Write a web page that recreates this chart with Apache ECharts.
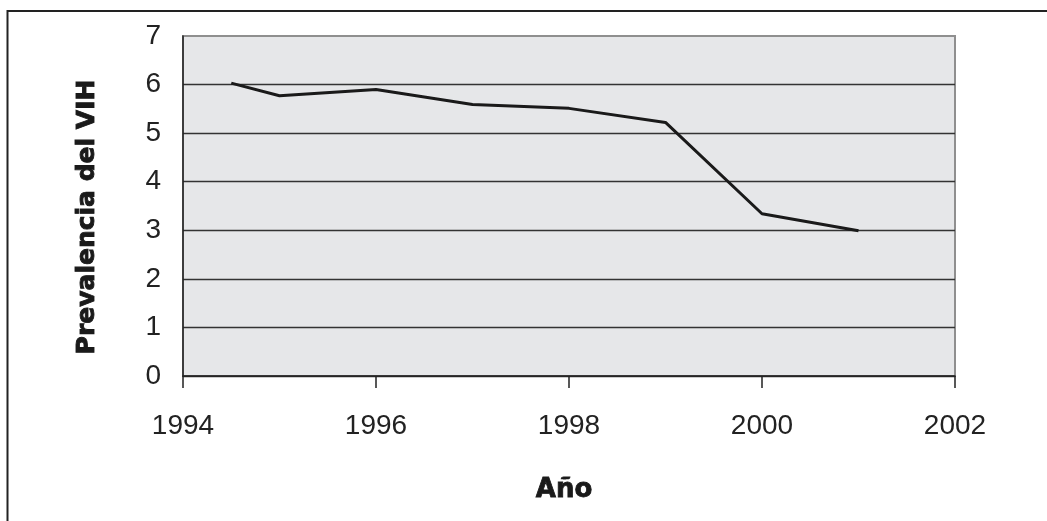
<!DOCTYPE html>
<html>
<head>
<meta charset="utf-8">
<script src="https://cdn.jsdelivr.net/npm/echarts@6/dist/echarts.min.js"></script>
<style>html,body{margin:0;padding:0;background:#fff;}#c{width:1047px;height:521px;}</style>
</head>
<body>
<div id="c"></div>
<script>
var years = [1994.5, 1995, 1996, 1997, 1998, 1999, 2000, 2001];
var prevalence = [6.03, 5.77, 5.9, 5.59, 5.51, 5.22, 3.34, 2.99];
var xTitle = 'Año';
var yTitle = 'Prevalencia del VIH';

var chart = echarts.init(document.getElementById('c'), null, {renderer: 'canvas'});
chart.setOption({
  animation: false,
  backgroundColor: '#fff',
  graphic: [{
    type: 'polyline',
    shape: {points: [[1047, 11], [7.5, 11], [7.5, 521]]},
    style: {stroke: '#222', lineWidth: 2, fill: null},
    silent: true
  }],
  grid: {
    left: 183, right: 92, top: 36, bottom: 145,
    show: true, backgroundColor: '#e6e7e9', borderColor: '#8f8f8f', borderWidth: 2
  },
  xAxis: {
    type: 'value', min: 1994, max: 2002, interval: 2,
    axisLine: {show: true, lineStyle: {color: '#222', width: 1.5}},
    axisTick: {show: true, length: 12, lineStyle: {color: '#222', width: 1.5}},
    splitLine: {show: false},
    axisLabel: {
      margin: 36, fontFamily: 'Arial', fontSize: 28, color: '#222',
      formatter: function (v) { return String(v); }
    },
    name: xTitle, nameLocation: 'middle', nameGap: 101,
    nameTextStyle: {fontFamily: 'DejaVu Sans', fontWeight: 'bold', fontSize: 26, color: '#1a1a1a',
      textBorderColor: '#1a1a1a', textBorderWidth: 0.8, padding: [0, 10, 0, 0]}
  },
  yAxis: {
    type: 'value', min: 0, max: 7, interval: 1,
    axisLine: {show: true, lineStyle: {color: '#222', width: 1.5}},
    axisTick: {show: false},
    splitLine: {show: true, lineStyle: {color: ['#333', '#333', '#333', '#333', '#333', '#333', '#333', 'rgba(0,0,0,0)'], width: 1.3}},
    axisLabel: {margin: 22, verticalAlign: 'middle', lineHeight: 28, padding: [8, 0, 0, 0], fontFamily: 'Arial', fontSize: 28, color: '#222'},
    name: yTitle, nameLocation: 'middle', nameGap: 83, nameRotate: 90,
    nameTextStyle: {fontFamily: 'DejaVu Sans', fontWeight: 'bold', fontSize: 25, color: '#1a1a1a',
      textBorderColor: '#1a1a1a', textBorderWidth: 0.9, padding: [0, 22, 0, 0]}
  },
  series: [{
    type: 'line',
    data: years.map(function (y, i) { return [y, prevalence[i]]; }),
    showSymbol: false, symbol: 'none',
    lineStyle: {color: '#1a1a1a', width: 3},
    z: 5
  }]
});
</script>
</body>
</html>
